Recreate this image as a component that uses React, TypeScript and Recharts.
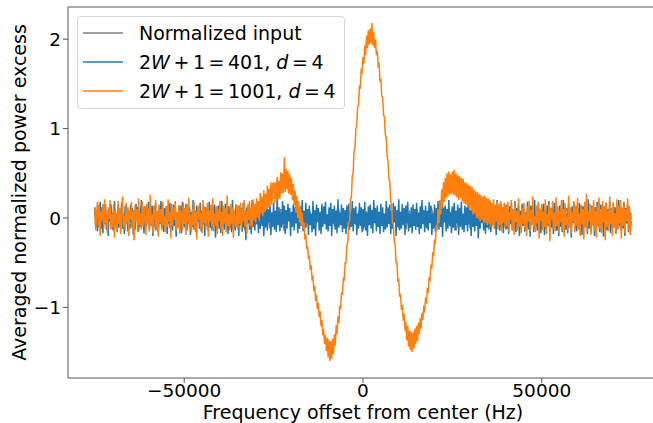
import React from 'react';
import { LineChart, Line, XAxis, YAxis, Legend, ReferenceLine } from 'recharts';

// frequency grid of the curves (Hz)
const FREQ_START = -75000;
const FREQ_STEP = 250;
const INPUT_STEP = 1000;

const xTicks = [-50000, 0, 50000];
const yTicks = [-1, 0, 1, 2];
const Y_TOP = 2.36;

// normalized input, one value every 1000 Hz
const inputValues = [
  0.05, -0.1, 0.12, -0.06, 0.08, -0.13, 0.03, 0.1, -0.08, 0.06,
  -0.12, 0.09, -0.04, 0.13, -0.09, 0.02, 0.11, -0.14, 0.07, -0.03,
  0.1, -0.11, 0.05, -0.07, 0.14, -0.1, 0.04, -0.12, 0.08, 0.01,
  -0.09, 0.12, -0.05, 0.07, -0.13, 0.1, -0.02, 0.09, -0.11, 0.06,
  -0.06, 0.11, -0.14, 0.04, -0.08, 0.13, -0.1, 0.03, 0.08, -0.12,
  0.07, -0.04, 0.1, -0.15, 0.05, -0.07, 0.12, -0.09, 0.02, -0.11,
  0.09, -0.13, 0.06, -0.03, 0.11, -0.1, 0.04, -0.08, 0.13, -0.06,
  0.02, -0.12, 0.1, -0.05, 0.08, -0.14, 0.06, -0.02, 0.11, -0.09,
  0.05, -0.11, 0.12, -0.07, 0.03, -0.1, 0.09, -0.13, 0.07, -0.04,
  0.1, -0.08, 0.02, -0.12, 0.14, -0.06, 0.05, -0.1, 0.08, -0.03,
  0.11, -0.14, 0.06, -0.05, 0.09, -0.12, 0.03, -0.07, 0.13, -0.09,
  0.04, -0.1, 0.12, -0.06, 0.07, -0.13, 0.1, -0.02, 0.06, -0.11,
  0.08, -0.05, 0.13, -0.09, 0.02, -0.12, 0.1, -0.07, 0.05, -0.14,
  0.09, -0.03, 0.11, -0.1, 0.06, -0.08, 0.14, -0.11, 0.04, -0.06,
  0.12, -0.09, 0.03, -0.13, 0.08, -0.05, 0.1, -0.12, 0.07, -0.04,
  0.06,
];

// 2W+1 = 401, d = 4, one value every 250 Hz (20 per row = 5000 Hz)
const w401Values = [
  0.12, -0.1, 0.07, -0.15, 0.14, -0.05, 0.18, -0.12, 0.03, -0.17, 0.1, -0.07, 0.15, -0.13, 0.05, -0.2, 0.11, -0.04, 0.16, -0.09,
  0.06, -0.14, 0.19, -0.08, 0.02, -0.16, 0.13, -0.11, 0.09, -0.03, 0.17, -0.12, 0.04, -0.18, 0.14, -0.06, 0.1, -0.15, 0.08, -0.1,
  0.15, -0.05, 0.11, -0.19, 0.07, -0.13, 0.16, -0.02, 0.12, -0.15, 0.05, -0.1, 0.2, -0.08, 0.03, -0.17, 0.13, -0.11, 0.09, -0.06,
  0.18, -0.13, 0.06, -0.09, 0.14, -0.2, 0.1, -0.04, 0.16, -0.12, 0.02, -0.15, 0.12, -0.07, 0.19, -0.11, 0.05, -0.16, 0.11, -0.03,
  0.13, -0.18, 0.08, -0.06, 0.17, -0.12, 0.04, -0.14, 0.15, -0.09, 0.11, -0.21, 0.06, -0.05, 0.14, -0.13, 0.09, -0.17, 0.18, -0.08,
  0.03, -0.11, 0.16, -0.14, 0.1, -0.06, 0.12, -0.19, 0.07, -0.1, 0.2, -0.13, 0.05, -0.16, 0.14, -0.04, 0.09, -0.12, 0.17, -0.15,
  0.08, -0.07, 0.13, -0.2, 0.11, -0.09, 0.04, -0.15, 0.18, -0.11, 0.06, -0.14, 0.12, -0.05, 0.15, -0.22, 0.1, -0.08, 0.14, -0.12,
  0.05, -0.17, 0.19, -0.1, 0.08, -0.13, 0.16, -0.06, 0.11, -0.18, 0.13, -0.04, 0.07, -0.16, 0.2, -0.12, 0.03, -0.14, 0.15, -0.09,
  0.1, -0.2, 0.14, -0.08, 0.06, -0.15, 0.17, -0.11, 0.09, -0.25, 0.12, -0.06, 0.15, -0.13, 0.04, -0.18, 0.2, -0.1, 0.08, -0.14,
  0.16, -0.07, 0.11, -0.17, 0.05, -0.12, 0.22, -0.09, 0.13, -0.2, 0.07, -0.11, 0.18, -0.14, 0.1, -0.05, 0.14, -0.19, 0.06, -0.1,
  0.17, -0.13, 0.08, -0.16, 0.23, -0.08, 0.12, -0.15, 0.06, -0.11, 0.19, -0.07, 0.14, -0.18, 0.09, -0.12, 0.16, -0.04, 0.11, -0.2,
  0.07, -0.1, 0.15, -0.14, 0.12, -0.06, 0.18, -0.17, 0.04, -0.12, 0.13, -0.09, 0.2, -0.15, 0.08, -0.11, 0.17, -0.06, 0.1, -0.19,
  0.14, -0.08, 0.05, -0.16, 0.19, -0.12, 0.09, -0.2, 0.15, -0.05, 0.11, -0.14, 0.07, -0.18, 0.16, -0.1, 0.13, -0.07, 0.18, -0.13,
  0.04, -0.15, 0.12, -0.09, 0.17, -0.2, 0.1, -0.06, 0.14, -0.13, 0.08, -0.17, 0.21, -0.11, 0.06, -0.08, 0.15, -0.16, 0.11, -0.12,
  0.09, -0.18, 0.14, -0.05, 0.16, -0.13, 0.07, -0.1, 0.19, -0.15, 0.11, -0.07, 0.13, -0.19, 0.05, -0.12, 0.17, -0.09, 0.12, -0.16,
  0.1, -0.11, 0.18, -0.14, 0.06, -0.2, 0.13, -0.08, 0.15, -0.12, 0.09, -0.17, 0.2, -0.06, 0.11, -0.15, 0.14, -0.1, 0.07, -0.18,
  0.16, -0.09, 0.12, -0.16, 0.05, -0.13, 0.19, -0.11, 0.1, -0.07, 0.15, -0.18, 0.08, -0.12, 0.17, -0.05, 0.13, -0.2, 0.09, -0.1,
  0.21, -0.14, 0.07, -0.12, 0.16, -0.08, 0.11, -0.19, 0.14, -0.06, 0.18, -0.15, 0.04, -0.11, 0.12, -0.17, 0.15, -0.09, 0.1, -0.13,
  0.17, -0.1, 0.06, -0.18, 0.13, -0.12, 0.2, -0.07, 0.09, -0.16, 0.14, -0.11, 0.08, -0.14, 0.18, -0.06, 0.12, -0.19, 0.05, -0.12,
  0.15, -0.16, 0.11, -0.08, 0.19, -0.13, 0.07, -0.1, 0.16, -0.21, 0.12, -0.05, 0.14, -0.15, 0.1, -0.12, 0.2, -0.09, 0.06, -0.17,
  0.13, -0.11, 0.17, -0.14, 0.08, -0.06, 0.15, -0.19, 0.11, -0.1, 0.18, -0.13, 0.05, -0.16, 0.14, -0.08, 0.12, -0.15, 0.19, -0.07,
  0.09, -0.2, 0.14, -0.1, 0.06, -0.15, 0.16, -0.09, 0.12, -0.23, 0.1, -0.12, 0.17, -0.06, 0.13, -0.14, 0.08, -0.18, 0.15, -0.11,
  0.07, -0.13, 0.18, -0.16, 0.11, -0.05, 0.14, -0.12, 0.09, -0.19, 0.2, -0.08, 0.06, -0.14, 0.16, -0.1, 0.12, -0.17, 0.04, -0.09,
  0.15, -0.12, 0.1, -0.18, 0.13, -0.07, 0.17, -0.14, 0.05, -0.1, 0.19, -0.16, 0.11, -0.06, 0.14, -0.2, 0.08, -0.12, 0.16, -0.09,
  0.12, -0.15, 0.06, -0.11, 0.18, -0.13, 0.09, -0.21, 0.14, -0.07, 0.11, -0.16, 0.2, -0.1, 0.05, -0.14, 0.15, -0.08, 0.1, -0.17,
  0.13, -0.06, 0.16, -0.19, 0.08, -0.12, 0.14, -0.09, 0.19, -0.15, 0.07, -0.11, 0.12, -0.18, 0.17, -0.05, 0.1, -0.14, 0.06, -0.2,
  0.14, -0.1, 0.09, -0.16, 0.2, -0.08, 0.12, -0.13, 0.05, -0.17, 0.15, -0.11, 0.1, -0.22, 0.13, -0.06, 0.18, -0.12, 0.08, -0.15,
  0.11, -0.07, 0.17, -0.14, 0.06, -0.19, 0.13, -0.1, 0.16, -0.05, 0.09, -0.18, 0.21, -0.12, 0.07, -0.15, 0.14, -0.08, 0.12, -0.2,
  0.05, -0.13, 0.18, -0.09, 0.11, -0.16, 0.15, -0.06, 0.08, -0.21, 0.13, -0.11, 0.17, -0.14, 0.1, -0.07, 0.19, -0.17, 0.06, -0.12,
  0.16, -0.1, 0.12, -0.18, 0.09, -0.13, 0.2, -0.08, 0.14, -0.15, 0.07, -0.12, 0.18, -0.2, 0.11, -0.06, 0.15, -0.16, 0.1, -0.09,
  -0.04,
];

// 2W+1 = 1001, d = 4, one value every 250 Hz (20 per row = 5000 Hz)
const w1001Values = [
  0.1, -0.14, 0.05, 0.18, -0.09, 0.13, -0.2, 0.07, -0.03, 0.16, -0.12, 0.21, -0.06, 0.09, -0.17, 0.12, -0.01, 0.2, -0.13, 0.04,
  -0.1, 0.15, -0.22, 0.08, 0.02, -0.15, 0.19, -0.07, 0.11, -0.18, 0.06, 0.24, -0.11, 0.03, -0.14, 0.17, -0.05, 0.12, -0.2, 0.09,
  -0.02, 0.18, -0.12, 0.07, -0.25, 0.14, -0.04, 0.1, -0.16, 0.22, -0.08, 0.05, -0.13, 0.19, -0.1, 0.13, 0.0, -0.19, 0.16, -0.06,
  0.11, -0.15, 0.26, -0.09, 0.04, -0.17, 0.14, -0.03, 0.2, -0.12, 0.08, -0.21, 0.15, -0.05, 0.1, -0.14, 0.18, -0.08, 0.02, -0.16,
  0.13, -0.1, 0.21, -0.04, 0.07, -0.23, 0.16, -0.09, 0.12, -0.02, 0.19, -0.15, 0.06, -0.11, 0.14, -0.18, 0.09, 0.03, -0.13, 0.17,
  -0.07, 0.11, -0.19, 0.15, -0.05, 0.23, -0.12, 0.04, -0.16, 0.1, -0.08, 0.18, -0.14, 0.07, -0.24, 0.13, -0.02, 0.16, -0.11, 0.06,
  -0.17, 0.2, -0.06, 0.12, -0.13, 0.03, 0.17, -0.21, 0.09, -0.04, 0.15, -0.1, 0.22, -0.15, 0.05, -0.08, 0.13, -0.18, 0.1, -0.03,
  0.19, -0.12, 0.07, -0.2, 0.14, -0.06, 0.11, -0.16, 0.25, -0.09, 0.04, -0.14, 0.16, -0.07, 0.12, -0.22, 0.08, 0.01, -0.11, 0.15,
  -0.12, 0.14, -0.07, 0.17, -0.15, 0.1, -0.04, 0.2, -0.1, 0.08, -0.18, 0.15, -0.02, 0.19, -0.09, 0.12, -0.11, 0.21, -0.03, 0.16,
  -0.05, 0.22, 0.0, 0.19, -0.03, 0.28, 0.05, 0.24, 0.02, 0.31, 0.07, 0.27, 0.09, 0.36, 0.11, 0.33, 0.13, 0.4, 0.15, 0.38,
  0.4, 0.16, 0.4, 0.21, 0.46, 0.21, 0.42, 0.21, 0.51, 0.27, 0.5, 0.28, 0.68, 0.29, 0.55, 0.32, 0.53, 0.27, 0.49, 0.26,
  0.45, 0.2, 0.38, 0.14, 0.31, 0.06, 0.25, 0.0, 0.19, -0.05, 0.12, -0.08, 0.06, -0.12, -0.05, -0.24, -0.18, -0.35, -0.31, -0.46,
  -0.42, -0.58, -0.53, -0.7, -0.64, -0.82, -0.76, -0.93, -0.86, -1.02, -0.95, -1.11, -1.04, -1.21, -1.14, -1.31, -1.24, -1.41, -1.31, -1.49,
  -1.34, -1.56, -1.36, -1.6, -1.38, -1.58, -1.35, -1.52, -1.3, -1.43, -1.2, -1.3, -1.1, -1.18, -0.98, -1.02, -0.83, -0.86, -0.68, -0.69,
  -0.5, -0.5, -0.3, -0.27, -0.05, -0.03, 0.2, 0.23, 0.47, 0.51, 0.75, 0.77, 1.0, 1.03, 1.25, 1.26, 1.47, 1.46, 1.65, 1.63,
  1.8, 1.72, 1.93, 1.82, 2.04, 1.9, 2.1, 1.94, 2.12, 1.95, 2.18, 1.93, 2.08, 1.9, 2.0, 1.82, 1.87, 1.7, 1.72, 1.54,
  1.55, 1.36, 1.35, 1.15, 1.13, 0.93, 0.9, 0.68, 0.65, 0.44, 0.4, 0.18, 0.15, -0.05, -0.07, -0.27, -0.29, -0.5, -0.5, -0.7,
  -0.69, -0.88, -0.85, -1.03, -0.97, -1.15, -1.07, -1.26, -1.16, -1.37, -1.21, -1.44, -1.26, -1.48, -1.27, -1.5, -1.28, -1.46, -1.24, -1.41,
  -1.21, -1.38, -1.17, -1.3, -1.12, -1.24, -1.06, -1.14, -0.98, -1.06, -0.89, -0.96, -0.78, -0.84, -0.66, -0.71, -0.52, -0.57, -0.38, -0.43,
  -0.24, -0.29, -0.08, -0.14, 0.1, -0.06, 0.2, 0.04, 0.32, 0.12, 0.4, 0.18, 0.45, 0.22, 0.5, 0.24, 0.52, 0.26, 0.49, 0.27,
  0.52, 0.26, 0.54, 0.25, 0.5, 0.23, 0.48, 0.2, 0.47, 0.22, 0.45, 0.18, 0.44, 0.16, 0.4, 0.15, 0.39, 0.12, 0.37, 0.1,
  0.36, 0.08, 0.35, 0.04, 0.32, 0.05, 0.3, 0.0, 0.29, -0.01, 0.27, -0.04, 0.26, -0.02, 0.24, -0.06, 0.25, -0.05, 0.22, -0.08,
  0.22, -0.07, 0.2, -0.1, 0.17, -0.06, 0.21, -0.12, 0.15, -0.04, 0.18, -0.13, 0.16, -0.08, 0.19, -0.15, 0.12, -0.05, 0.17, -0.11,
  0.14, -0.09, 0.18, -0.16, 0.06, -0.02, 0.2, -0.13, 0.1, -0.19, 0.15, -0.05, 0.08, -0.14, 0.22, -0.1, 0.03, -0.17, 0.12, -0.07,
  0.17, -0.12, 0.05, -0.2, 0.13, -0.04, 0.19, -0.15, 0.09, -0.08, 0.24, -0.11, 0.02, -0.16, 0.14, -0.06, 0.18, -0.23, 0.1, -0.03,
  0.16, -0.14, 0.07, -0.1, 0.21, -0.18, 0.04, -0.07, 0.15, -0.26, 0.11, -0.02, 0.19, -0.12, 0.06, -0.15, 0.23, -0.09, 0.13, -0.17,
  0.08, -0.05, 0.2, -0.13, 0.1, -0.21, 0.17, -0.08, 0.03, -0.14, 0.25, -0.11, 0.12, -0.18, 0.07, -0.04, 0.19, -0.16, 0.14, -0.09,
  0.22, -0.13, 0.05, -0.2, 0.15, -0.07, 0.1, -0.24, 0.18, -0.1, 0.27, -0.15, 0.08, -0.03, 0.16, -0.19, 0.12, -0.08, 0.2, -0.14,
  0.06, -0.22, 0.14, -0.09, 0.23, -0.12, 0.1, -0.17, 0.19, -0.05, 0.13, -0.25, 0.17, -0.1, 0.08, -0.15, 0.24, -0.07, 0.11, -0.2,
  0.18, -0.11, 0.05, -0.18, 0.21, -0.13, 0.14, -0.06, 0.2, -0.23, 0.12, -0.09, 0.16, -0.17, 0.1, -0.04, 0.22, -0.14, 0.13, -0.19,
  0.04,
];

const toPoints = (values: number[], step: number) =>
  values.map((value, i) => ({ freq: FREQ_START + i * step, value }));

const inputData = toPoints(inputValues, INPUT_STEP);
const w401Data = toPoints(w401Values, FREQ_STEP);
const w1001Data = toPoints(w1001Values, FREQ_STEP);

const FONT = 'DejaVu Sans';
const SPINE = '#555';

const fmt = (v: number) => (v < 0 ? `\u2212${Math.abs(v)}` : `${v}`);

// mathtext-like spacing: tight around operators, normal after the comma
const tight = { wordSpacing: '-2.5px' };

const legendRows = [
  { color: '#808080', label: <>Normalized input</> },
  {
    color: '#1f77b4',
    label: <><span style={tight}>2<i>W</i> + 1 = 401,</span> <span style={tight}><i>d</i> = 4</span></>,
  },
  {
    color: '#ff7f0e',
    label: <><span style={tight}>2<i>W</i> + 1 = 1001,</span> <span style={tight}><i>d</i> = 4</span></>,
  },
];

const LegendBox = () => (
  <div
    style={{
      width: 268,
      height: 93,
      boxSizing: 'border-box',
      border: '1px solid #d6d6d6',
      borderRadius: 4,
      background: 'rgba(255,255,255,0.8)',
      fontFamily: FONT,
      fontSize: 19,
      color: '#000',
      paddingTop: 1,
    }}
  >
    {legendRows.map((row, i) => (
      <div key={i} style={{ display: 'flex', alignItems: 'center', height: 29, whiteSpace: 'nowrap' }}>
        <svg width={40} height={4} style={{ marginLeft: 5, flex: 'none' }}>
          <line x1={0} y1={2} x2={40} y2={2} stroke={row.color} strokeWidth={1.5} />
        </svg>
        <span style={{ marginLeft: 16 }}>{row.label}</span>
      </div>
    ))}
  </div>
);

const App = () => (
  <div style={{ position: 'absolute', left: 0, top: 0, width: 653, height: 423, overflow: 'hidden', background: '#fff' }}>
    <LineChart width={662} height={423} margin={{ top: 7, right: 4, bottom: 0, left: 0 }} style={{ fontFamily: FONT }}>
      <XAxis
        dataKey="freq"
        type="number"
        domain={[-82500, 82500]}
        ticks={xTicks}
        allowDataOverflow
        tickFormatter={fmt}
        height={45}
        tickSize={5}
        tickMargin={1}
        tick={{ fill: '#000', fontSize: 18.5 }}
        stroke={SPINE}
        label={{ value: 'Frequency offset from center (Hz)', position: 'insideBottom', offset: 4, fill: '#000', fontSize: 19 }}
      />
      <YAxis
        type="number"
        domain={[-1.79, Y_TOP]}
        ticks={yTicks}
        allowDataOverflow
        tickFormatter={fmt}
        width={68}
        tickSize={5}
        tickMargin={2}
        tick={{ fill: '#000', fontSize: 18.5 }}
        stroke={SPINE}
        label={{
          value: 'Averaged normalized power excess',
          angle: -90,
          position: 'insideLeft',
          offset: 19,
          fill: '#000',
          fontSize: 19,
          style: { textAnchor: 'middle' },
        }}
      />
      {/* top spine */}
      <ReferenceLine y={Y_TOP} stroke={SPINE} strokeWidth={1} ifOverflow="extendDomain" />
      <Legend
        content={() => <LegendBox />}
        layout="vertical"
        align="center"
        verticalAlign="middle"
        wrapperStyle={{ left: 77, top: 16, width: 268, height: 93 }}
      />
      <Line data={inputData} dataKey="value" name="Normalized input" stroke="#808080" strokeWidth={1.5} dot={false} type="linear" isAnimationActive={false} />
      <Line data={w401Data} dataKey="value" name="2W+1=401, d=4" stroke="#1f77b4" strokeWidth={1.5} dot={false} type="linear" isAnimationActive={false} />
      <Line data={w1001Data} dataKey="value" name="2W+1=1001, d=4" stroke="#ff7f0e" strokeWidth={1.5} dot={false} type="linear" isAnimationActive={false} />
    </LineChart>
  </div>
);

export default App;
